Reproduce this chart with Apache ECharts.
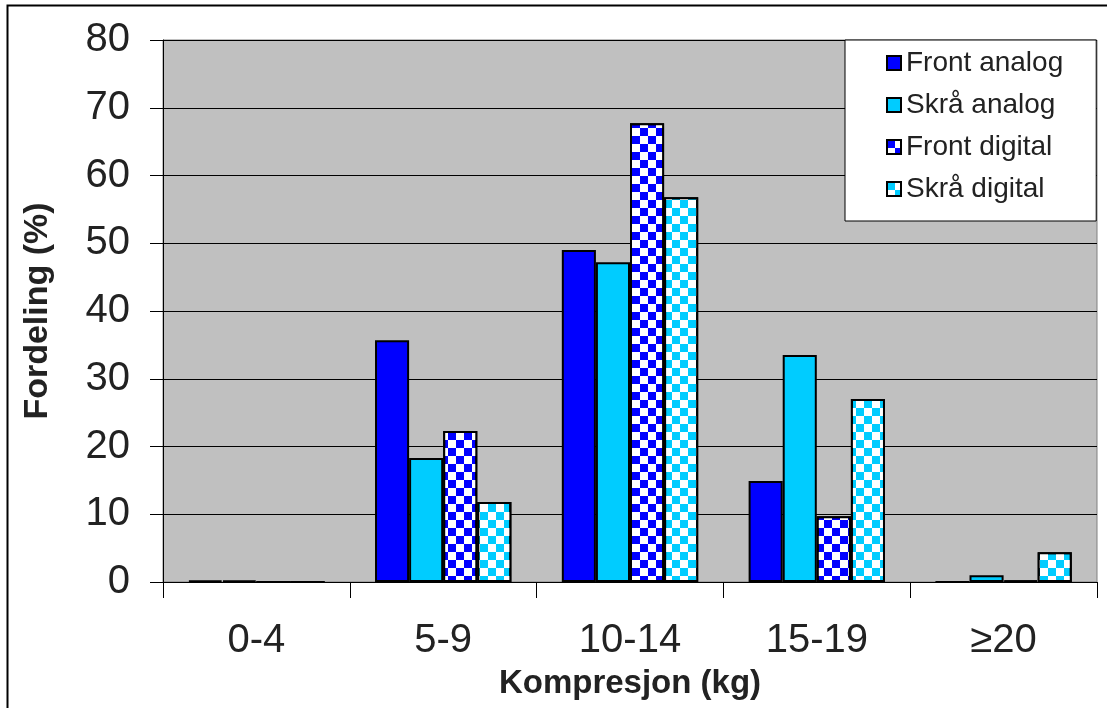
<!DOCTYPE html>
<html>
<head>
<meta charset="utf-8">
<script src="https://cdn.jsdelivr.net/npm/echarts@6/dist/echarts.min.js"></script>
<style>
  html, body { margin: 0; padding: 0; background: #fff; }
  #chart { width: 1107px; height: 708px; }
</style>
</head>
<body>
<div id="chart"></div>
<script>
const categories = ['0-4', '5-9', '10-14', '15-19', '≥20'];
const frontAnalog = [0.2, 35.7, 49.0, 14.9, 0];
const skraAnalog = [0.2, 18.3, 47.2, 33.5, 1.0];
const frontDigital = [0, 22.3, 67.7, 9.7, 0.2];
const skraDigital = [0, 11.8, 56.8, 27.0, 4.4];
const yTicks = [0, 10, 20, 30, 40, 50, 60, 70, 80];

const font = '"Liberation Sans", Arial, sans-serif';

// checkerboard pattern for the digital series
const checker = {
  symbol: 'rect',
  symbolSize: 1,
  color: '#ffffff',
  dashArrayX: [[8, 8], [0, 8, 8, 0]],
  dashArrayY: [8, 0],
  rotation: 0
};

function bar(name, data, color, decal) {
  const s = {
    name: name,
    type: 'bar',
    data: data,
    barGap: '0%',
    barCategoryGap: '27%',
    itemStyle: { color: color, borderColor: '#000', borderWidth: 2 }
  };
  if (decal) s.itemStyle.decal = decal;
  return s;
}

const chart = echarts.init(document.getElementById('chart'));
chart.setOption({
  animation: false,
  textStyle: { fontFamily: font },
  graphic: [{
    type: 'rect',
    shape: { x: 7.5, y: 5.5, width: 1110, height: 720 },
    style: { fill: 'none', stroke: '#000', lineWidth: 2 },
    silent: true
  }],
  grid: {
    left: 163, right: 10, top: 40, bottom: 126,
    outerBoundsMode: 'none',
    show: true,
    backgroundColor: '#c0c0c0',
    borderColor: '#808080',
    borderWidth: 1
  },
  legend: {
    orient: 'vertical',
    left: 845,
    top: 40,
    padding: [9, 33, 18, 41],
    backgroundColor: '#fff',
    borderColor: '#000',
    borderWidth: 1,
    itemWidth: 14,
    itemHeight: 14,
    itemGap: 14,
    icon: 'rect',
    textStyle: { fontSize: 28, color: '#222', fontFamily: font },
    data: ['Front analog', 'Skrå analog', 'Front digital', 'Skrå digital']
  },
  xAxis: {
    type: 'category',
    data: categories,
    name: 'Kompresjon (kg)',
    nameLocation: 'middle',
    nameGap: 85,
    nameTextStyle: { fontSize: 33, fontWeight: 'bold', color: '#222' },
    axisLine: { lineStyle: { color: '#000', width: 1 } },
    axisTick: { show: true, length: 16, lineStyle: { color: '#000' } },
    axisLabel: { fontSize: 40, color: '#222', margin: 39 },
    splitLine: { show: false }
  },
  yAxis: {
    type: 'value',
    min: 0,
    max: 80,
    interval: 10,
    name: 'Fordeling (%)',
    nameLocation: 'middle',
    nameGap: 108,
    nameTextStyle: { fontSize: 34, fontWeight: 'bold', color: '#222' },
    axisLine: { show: true, lineStyle: { color: '#000', width: 1 } },
    axisTick: { show: true, length: 13, lineStyle: { color: '#000' } },
    axisLabel: {
      fontSize: 40, color: '#222', margin: 33,
      formatter: v => yTicks.indexOf(v) >= 0 ? String(v) : ''
    },
    splitLine: { show: true, lineStyle: { color: '#000', width: 1 } }
  },
  series: [
    bar('Front analog', frontAnalog, '#0000ff'),
    bar('Skrå analog', skraAnalog, '#00ccff'),
    bar('Front digital', frontDigital, '#0000ff', checker),
    bar('Skrå digital', skraDigital, '#00ccff', checker)
  ]
});
</script>
</body>
</html>
